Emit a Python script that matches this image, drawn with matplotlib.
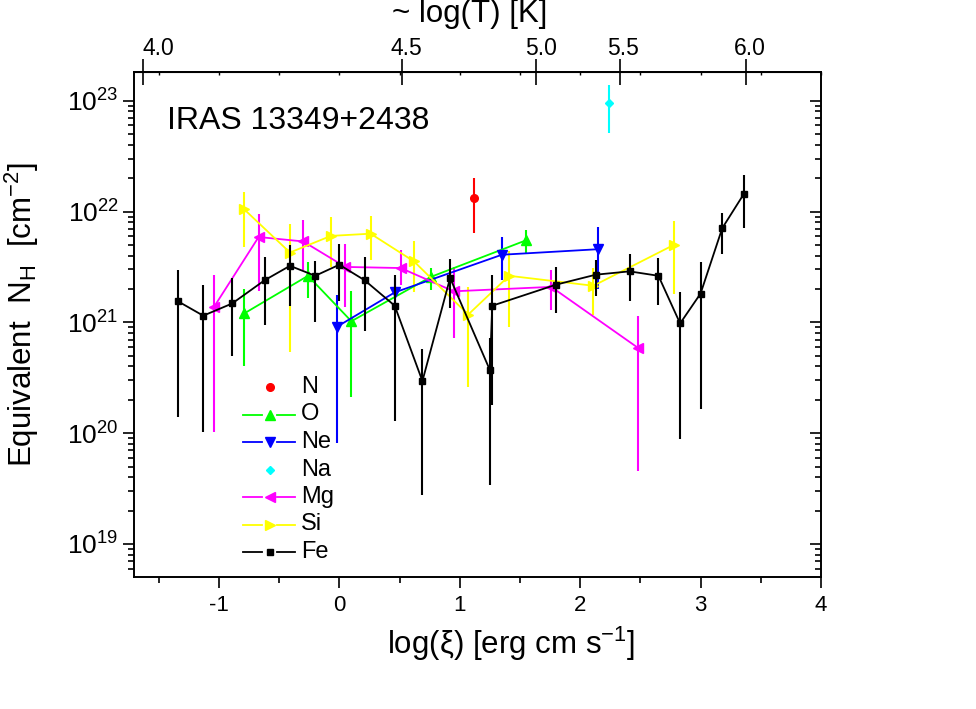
import numpy as np
import matplotlib
matplotlib.use("Agg")
import matplotlib.pyplot as plt
import matplotlib.transforms as mtransforms

plt.rcParams['font.family'] = ['Liberation Sans', 'DejaVu Sans']
plt.rcParams['mathtext.fontset'] = 'custom'
plt.rcParams['mathtext.rm'] = 'Liberation Sans'
plt.rcParams['mathtext.it'] = 'Liberation Sans:italic'
plt.rcParams['mathtext.bf'] = 'Liberation Sans:bold'

# ---------------- data (log10 of N_H in cm^-2) ----------------
fe_xi  = [-1.34, -1.13, -0.89, -0.62, -0.41, -0.20, 0.00, 0.21, 0.46, 0.69, 0.92,
          1.25, 1.27, 1.80, 2.13, 2.41, 2.65, 2.83, 3.00, 3.18, 3.36]
fe_log = [21.19, 21.06, 21.17, 21.38, 21.51, 21.42, 21.52, 21.38, 21.15, 20.47, 21.40,
          20.57, 21.15, 21.34, 21.43, 21.46, 21.42, 20.99, 21.26, 21.85, 22.16]
fe_hi  = [21.47, 21.34, 21.40, 21.59, 21.70, 21.55, 21.71, 21.59, 21.43, 20.76, 21.57,
          20.86, 21.43, 21.50, 21.56, 21.62, 21.58, 21.27, 21.54, 21.99, 22.33]
fe_lo  = [20.15, 20.01, 20.70, 20.98, 21.15, 21.00, 21.19, 20.92, 20.11, 19.44, 21.13,
          19.53, 20.25, 21.08, 21.24, 21.19, 21.16, 19.95, 20.22, 21.62, 21.85]

o_xi  = [-0.79, -0.26, 0.10, 0.76, 1.55]
o_log = [21.08, 21.42, 21.01, 21.41, 21.74]
o_hi  = [21.30, 21.54, 21.28, 21.49, 21.83]
o_lo  = [20.61, 21.22, 20.33, 21.29, 21.63]

ne_xi  = [-0.02, 0.46, 1.35, 2.15]
ne_log = [20.96, 21.27, 21.61, 21.66]
ne_hi  = [21.25, 21.40, 21.77, 21.86]
ne_lo  = [19.91, 21.15, 21.38, 21.30]

mg_xi  = [-1.04, -0.67, -0.30, 0.05, 0.51, 0.95, 1.76, 2.48]
mg_log = [21.14, 21.77, 21.73, 21.50, 21.49, 21.28, 21.32, 20.77]
mg_hi  = [21.43, 21.98, 21.92, 21.71, 21.65, 21.50, 21.47, 21.06]
mg_lo  = [20.01, 21.28, 21.47, 21.14, 21.34, 20.86, 21.11, 19.66]

si_xi  = [-0.79, -0.41, -0.07, 0.26, 0.62, 1.07, 1.41, 2.11, 2.78]
si_log = [22.02, 21.63, 21.78, 21.80, 21.55, 21.07, 21.42, 21.33, 21.70]
si_hi  = [22.18, 21.89, 21.95, 21.96, 21.73, 21.32, 21.64, 21.49, 21.91]
si_lo  = [21.68, 20.73, 21.50, 21.56, 21.27, 20.42, 20.96, 21.07, 21.26]

na_xi  = [2.24]
na_log = [22.98]
na_hi  = [23.14]
na_lo  = [22.71]

n_xi  = [1.12]
n_log = [22.12]
n_hi  = [22.30]
n_lo  = [21.81]

# top axis: approximate log(T) marks placed at log(xi) positions
t_pos    = [-1.63, 0.52, 1.635, 2.33, 3.38]
t_labels = ['4.0', '4.5', '5.0', '5.5', '6.0']

# ---------------- figure ----------------
W, H = 976, 709
fig = plt.figure(figsize=(W / 100, H / 100), dpi=100)
L, R, T, B = 134, 821, 72, 577
ax = fig.add_axes([L / W, 1 - B / H, (R - L) / W, (B - T) / H])

XMIN, XMAX = -1.705, 4.0
YMIN, YMAX = 10 ** 18.702, 10 ** 23.259


def series(xi, lg, hi, lo, color, marker, ms, line=True, z=2):
    xi = np.asarray(xi)
    v = 10 ** np.asarray(lg)
    up = 10 ** np.asarray(hi) - v
    dn = v - 10 ** np.asarray(lo)
    ax.errorbar(xi, v, yerr=[dn, up], fmt='none', ecolor=color,
                elinewidth=1.5, capsize=0, zorder=z)
    ax.plot(xi, v, color=color, lw=1.3 if line else 0,
            ls='-' if line else 'none', marker=marker, ms=ms,
            mfc=color, mec=color, zorder=z + 0.5)


series(n_xi, n_log, n_hi, n_lo, '#ff0000', 'o', 5.5, line=False)
series(o_xi, o_log, o_hi, o_lo, '#00ff00', '^', 6.5)
series(ne_xi, ne_log, ne_hi, ne_lo, '#0000ff', 'v', 6.5)
series(na_xi, na_log, na_hi, na_lo, '#00ffff', 'D', 4.5, line=False)
series(mg_xi, mg_log, mg_hi, mg_lo, '#ff00ff', '<', 6.5)
series(si_xi, si_log, si_hi, si_lo, '#ffff00', '>', 6.5)
series(fe_xi, fe_log, fe_hi, fe_lo, '#000000', 's', 5, z=3)

ax.set_yscale('log')
ax.set_xlim(XMIN, XMAX)
ax.set_ylim(YMIN, YMAX)

for s in ax.spines.values():
    s.set_linewidth(1.2)

ax.set_xticks([-1, 0, 1, 2, 3, 4])
ax.set_xticklabels(['-1', '0', '1', '2', '3', '4'])
ax.set_xticks(np.arange(-1.5, 4.0, 1.0), minor=True)
ax.tick_params(axis='x', which='major', direction='out', length=8, width=1.2,
               labelsize=16, pad=5, top=False)
ax.tick_params(axis='x', which='minor', direction='out', length=4.5, width=1.2, top=False)

ax.set_yticks([1e19, 1e20, 1e21, 1e22, 1e23])
ax.set_yticklabels([r'$10^{19}$', r'$10^{20}$', r'$10^{21}$', r'$10^{22}$', r'$10^{23}$'])
ax.yaxis.set_minor_locator(matplotlib.ticker.LogLocator(base=10, subs=np.arange(2, 10)))
ax.yaxis.set_minor_formatter(matplotlib.ticker.NullFormatter())
ax.tick_params(axis='y', which='major', direction='out', length=8, width=1.2,
               labelsize=19, pad=3, right=False)
ax.tick_params(axis='y', which='minor', direction='out', length=4.5, width=1.2, right=False)

# right axis: inward ticks, no labels
axr = ax.twinx()
axr.set_yscale('log')
axr.set_ylim(YMIN, YMAX)
axr.set_yticks([1e19, 1e20, 1e21, 1e22, 1e23])
axr.yaxis.set_minor_locator(matplotlib.ticker.LogLocator(base=10, subs=np.arange(2, 10)))
axr.yaxis.set_minor_formatter(matplotlib.ticker.NullFormatter())
axr.tick_params(axis='y', which='major', direction='in', length=8, width=1.2, labelright=False)
axr.tick_params(axis='y', which='minor', direction='in', length=4.5, width=1.2)
for s in axr.spines.values():
    s.set_linewidth(1.2)

# small mirrored ticks on top
axs = ax.secondary_xaxis('top')
axs.set_xticks(np.arange(-1.5, 4.01, 0.5))
axs.tick_params(direction='in', length=2.5, width=1.0, labeltop=False)

# log(T) axis on top
axt = ax.secondary_xaxis('top')
axt.set_xticks(t_pos)
axt.set_xticklabels(t_labels)
axt.tick_params(direction='inout', length=19, width=1.2, labelsize=16.5, pad=-1)
axt.spines['top'].set_linewidth(1.2)
label_shift_px = [15, 4, 5, 3, 3]
for lab, dx in zip(axt.get_xticklabels(), label_shift_px):
    lab.set_transform(lab.get_transform() +
                      mtransforms.ScaledTranslation(dx / 100, 0, fig.dpi_scale_trans))

# labels
fig.text(511 / W, 1 - 644 / H, 'log(ξ) [erg cm s$^{\\mathregular{-1}}$]',
         ha='center', va='center', fontsize=22.5)
fig.text(470 / W, 1 - 14 / H, '~ log(T) [K]', ha='center', va='center', fontsize=22.5)
fig.text(22 / W, 1 - 315 / H, r'Equivalent  N$_\mathregular{H}$  [cm$^{\mathregular{-2}}$]',
         ha='center', va='center', rotation=90, fontsize=22.5)

ax.text((167 - L) / (R - L), (B - 121) / (B - T), 'IRAS 13349+2438',
        transform=ax.transAxes, ha='left', va='center', fontsize=23)

# legend (drawn manually, Origin style)
leg_names = ['N', 'O', 'Ne', 'Na', 'Mg', 'Si', 'Fe']
leg_colors = ['#ff0000', '#00ff00', '#0000ff', '#00ffff', '#ff00ff', '#ffff00', '#000000']
leg_markers = ['o', '^', 'v', 'D', '<', '>', 's']
leg_ms = [5.5, 6.5, 6.5, 4.5, 6.5, 6.5, 5]
leg_lines = [False, True, True, False, True, True, True]
leg_y = [387, 414.5, 442, 469.5, 497, 524.5, 552]


def fx(px):
    return (px - L) / (R - L)


def fy(py):
    return (B - py) / (B - T)


for name, c, m, ms, ln, py in zip(leg_names, leg_colors, leg_markers, leg_ms, leg_lines, leg_y):
    if ln:
        ax.plot([fx(243), fx(262)], [fy(py), fy(py)], color=c, lw=1.3,
                transform=ax.transAxes, clip_on=False)
        ax.plot([fx(277), fx(295)], [fy(py), fy(py)], color=c, lw=1.3,
                transform=ax.transAxes, clip_on=False)
    ax.plot([fx(269.5)], [fy(py)], marker=m, ms=ms, color=c, mec=c,
            transform=ax.transAxes, clip_on=False, ls='none')
    ax.text(fx(301), fy(py), name, transform=ax.transAxes, ha='left', va='center',
            fontsize=17)

fig.savefig('out.png', dpi=100)
